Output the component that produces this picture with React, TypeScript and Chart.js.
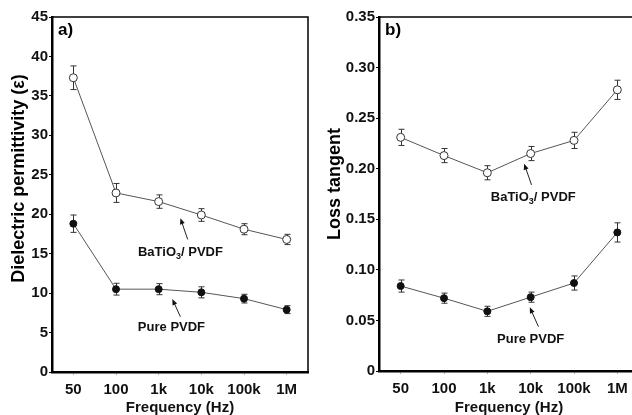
import React, { useEffect, useRef } from 'react';
import { Chart, registerables } from 'chart.js';

Chart.register(...registerables);

// ---------- data ----------
const freqLabels = ['50', '100', '1k', '10k', '100k', '1M'];

const permBaTiO3 = [37.3, 22.7, 21.6, 19.9, 18.1, 16.8];
const permBaTiO3Err = [1.5, 1.2, 0.85, 0.8, 0.7, 0.65];
const permPVDF = [18.8, 10.5, 10.5, 10.1, 9.3, 7.9];
const permPVDFErr = [1.1, 0.75, 0.7, 0.7, 0.55, 0.5];

const lossBaTiO3 = [0.231, 0.213, 0.196, 0.215, 0.228, 0.278];
const lossBaTiO3Err = [0.008, 0.007, 0.007, 0.007, 0.008, 0.0095];
const lossPVDF = [0.084, 0.072, 0.059, 0.073, 0.087, 0.137];
const lossPVDFErr = [0.006, 0.005, 0.005, 0.005, 0.007, 0.0095];

const seriesNames = ['BaTiO3/ PVDF', 'Pure PVDF'];

// annotation anchors in data coordinates (category index, value)
const permNotes = [
  { parts: [['BaTiO', false], ['3', true], ['/ PVDF', false]], at: [2.51, 15.2], tail: [2.68, 16.8], head: [2.51, 19.5] },
  { parts: [['Pure PVDF', false]], at: [2.3, 5.6], tail: [2.51, 7.0], head: [2.32, 9.25] },
];
const lossNotes = [
  { parts: [['BaTiO', false], ['3', true], ['/ PVDF', false]], at: [3.06, 0.172], tail: [3.02, 0.184], head: [2.85, 0.205] },
  { parts: [['Pure PVDF', false]], at: [3.0, 0.0316], tail: [3.18, 0.0438], head: [2.98, 0.063] },
];

const FONT = "'Liberation Sans', Arial, Helvetica, sans-serif";

const errorBarPlugin = {
  id: 'errorBars',
  beforeDatasetsDraw(chart: any) {
    const ctx = chart.ctx;
    const ys = chart.scales.y;
    chart.data.datasets.forEach((ds: any, i: number) => {
      const errs = ds.errors;
      if (!errs) return;
      const meta = chart.getDatasetMeta(i);
      ctx.save();
      ctx.strokeStyle = '#333';
      ctx.lineWidth = 1;
      meta.data.forEach((pt: any, j: number) => {
        const v = ds.data[j];
        const e = errs[j];
        const x = Math.round(pt.x) + 0.5;
        const t = ys.getPixelForValue(v + e);
        const b = ys.getPixelForValue(v - e);
        ctx.beginPath();
        ctx.moveTo(x, t);
        ctx.lineTo(x, b);
        ctx.moveTo(x - 3, t);
        ctx.lineTo(x + 3, t);
        ctx.moveTo(x - 3, b);
        ctx.lineTo(x + 3, b);
        ctx.stroke();
      });
      ctx.restore();
    });
  },
};

function makeDecorPlugin(letter: string, yTitle: string, yTitleShift: number, notes: any[]) {
  return {
    id: 'decor',
    afterDraw(chart: any) {
      const ctx = chart.ctx;
      const ca = chart.chartArea;
      const xs = chart.scales.x;
      const ys = chart.scales.y;
      ctx.save();
      // top / right frame
      ctx.strokeStyle = '#000';
      ctx.lineWidth = 1.5;
      ctx.beginPath();
      ctx.moveTo(ca.left, ca.top);
      ctx.lineTo(ca.right, ca.top);
      ctx.lineTo(ca.right, ca.bottom);
      ctx.stroke();
      // panel letter
      ctx.fillStyle = '#000';
      ctx.font = `bold 17px ${FONT}`;
      ctx.textAlign = 'left';
      ctx.textBaseline = 'top';
      ctx.fillText(letter, ca.left + 6, ca.top + 5);
      // y title
      ctx.save();
      ctx.translate(19, (ca.top + ca.bottom) / 2 + yTitleShift);
      ctx.rotate(-Math.PI / 2);
      ctx.font = `bold 18px ${FONT}`;
      ctx.textAlign = 'center';
      ctx.textBaseline = 'middle';
      ctx.fillText(yTitle, 0, 0);
      ctx.restore();
      // notes
      notes.forEach((n) => {
        const cx = xs.getPixelForValue(n.at[0]);
        const cy = ys.getPixelForValue(n.at[1]);
        const big = `bold 13px ${FONT}`;
        const small = `bold 9px ${FONT}`;
        let total = 0;
        n.parts.forEach((p: any) => {
          ctx.font = p[1] ? small : big;
          total += ctx.measureText(p[0]).width;
        });
        let x = cx - total / 2;
        ctx.textAlign = 'left';
        ctx.textBaseline = 'middle';
        ctx.fillStyle = '#111';
        n.parts.forEach((p: any) => {
          ctx.font = p[1] ? small : big;
          ctx.fillText(p[0], x, p[1] ? cy + 4 : cy);
          x += ctx.measureText(p[0]).width;
        });
        // arrow
        const tx = xs.getPixelForValue(n.tail[0]);
        const ty = ys.getPixelForValue(n.tail[1]);
        const hx = xs.getPixelForValue(n.head[0]);
        const hy = ys.getPixelForValue(n.head[1]);
        const ang = Math.atan2(hy - ty, hx - tx);
        ctx.strokeStyle = '#222';
        ctx.lineWidth = 1;
        ctx.beginPath();
        ctx.moveTo(tx, ty);
        ctx.lineTo(hx - 4 * Math.cos(ang), hy - 4 * Math.sin(ang));
        ctx.stroke();
        ctx.beginPath();
        ctx.moveTo(hx, hy);
        ctx.lineTo(hx - 6 * Math.cos(ang) + 2.5 * Math.sin(ang), hy - 6 * Math.sin(ang) - 2.5 * Math.cos(ang));
        ctx.lineTo(hx - 6 * Math.cos(ang) - 2.5 * Math.sin(ang), hy - 6 * Math.sin(ang) + 2.5 * Math.cos(ang));
        ctx.closePath();
        ctx.fillStyle = '#111';
        ctx.fill();
      });
      ctx.restore();
    },
  };
}

type PanelProps = {
  left: number;
  width: number;
  open: number[];
  openErr: number[];
  filled: number[];
  filledErr: number[];
  yMax: number;
  step: number;
  fmt: (v: number) => string;
  yTitle: string;
  yTitleShift: number;
  letter: string;
  notes: any[];
  yWidth: number;
  xHeight: number;
  padRight: number;
};

function Panel(p: PanelProps) {
  const ref = useRef<HTMLCanvasElement | null>(null);
  useEffect(() => {
    if (!ref.current) return;
    const chart = new Chart(ref.current, {
      type: 'line',
      data: {
        labels: freqLabels,
        datasets: [
          {
            label: seriesNames[0],
            data: p.open,
            errors: p.openErr,
            borderColor: '#555',
            borderWidth: 1,
            pointRadius: 4,
            pointBackgroundColor: '#fff',
            pointBorderColor: '#333',
            pointBorderWidth: 1,
            tension: 0,
          } as any,
          {
            label: seriesNames[1],
            data: p.filled,
            errors: p.filledErr,
            borderColor: '#555',
            borderWidth: 1,
            pointRadius: 3.5,
            pointBackgroundColor: '#111',
            pointBorderColor: '#111',
            pointBorderWidth: 1,
            tension: 0,
          } as any,
        ],
      },
      options: {
        responsive: false,
        animation: false,
        devicePixelRatio: 1,
        layout: { padding: { top: 17, right: p.padRight, left: 0, bottom: 0 } },
        plugins: { legend: { display: false }, tooltip: { enabled: false } },
        scales: {
          x: {
            type: 'category',
            offset: true,
            grid: { display: true, drawOnChartArea: false, drawTicks: true, tickLength: 3, color: '#aaa' },
            border: { display: true, color: '#000', width: 2.5 },
            ticks: { color: '#111', padding: 6, font: { family: FONT, size: 15, weight: 'bold' } },
            title: {
              display: true,
              text: 'Frequency (Hz)',
              color: '#111',
              font: { family: FONT, size: 15, weight: 'bold', lineHeight: 1 },
              padding: { top: 0, bottom: 0 },
            },
            afterFit: (s: any) => {
              s.height = p.xHeight;
            },
          },
          y: {
            min: 0,
            max: p.yMax,
            grid: { display: true, drawOnChartArea: false, drawTicks: true, tickLength: 3, color: '#000' },
            border: { display: true, color: '#000', width: 2.5 },
            ticks: {
              stepSize: p.step,
              color: '#111',
              padding: 1,
              font: { family: FONT, size: 15, weight: 'bold' },
              callback: (v: any) => p.fmt(Number(v)),
            },
            afterFit: (s: any) => {
              s.width = p.yWidth;
            },
          },
        },
      } as any,
      plugins: [errorBarPlugin, makeDecorPlugin(p.letter, p.yTitle, p.yTitleShift, p.notes)],
    });
    return () => chart.destroy();
  }, []);
  return (
    <div style={{ position: 'absolute', left: p.left, top: 0, width: p.width, height: 415 }}>
      <canvas ref={ref} width={p.width} height={415} style={{ display: 'block', width: p.width, height: 415 }} />
    </div>
  );
}

export default function App() {
  return (
    <div
      style={{
        position: 'fixed',
        left: 0,
        top: 0,
        width: 632,
        height: 415,
        overflow: 'hidden',
        background: '#fff',
      }}
    >
      <Panel
        left={0}
        width={316}
        open={permBaTiO3}
        openErr={permBaTiO3Err}
        filled={permPVDF}
        filledErr={permPVDFErr}
        yMax={45}
        step={5}
        fmt={(v) => String(Math.round(v))}
        yTitle="Dielectric permittivity (ε)"
        yTitleShift={-16}
        letter="a)"
        notes={permNotes}
        yWidth={52}
        xHeight={43}
        padRight={8}
      />
      <Panel
        left={316}
        width={330}
        open={lossBaTiO3}
        openErr={lossBaTiO3Err}
        filled={lossPVDF}
        filledErr={lossPVDFErr}
        yMax={0.35}
        step={0.05}
        fmt={(v) => (Math.abs(v) < 1e-9 ? '0' : v.toFixed(2))}
        yTitle="Loss tangent"
        yTitleShift={-10}
        letter="b)"
        notes={lossNotes}
        yWidth={63}
        xHeight={44}
        padRight={7}
      />
    </div>
  );
}
